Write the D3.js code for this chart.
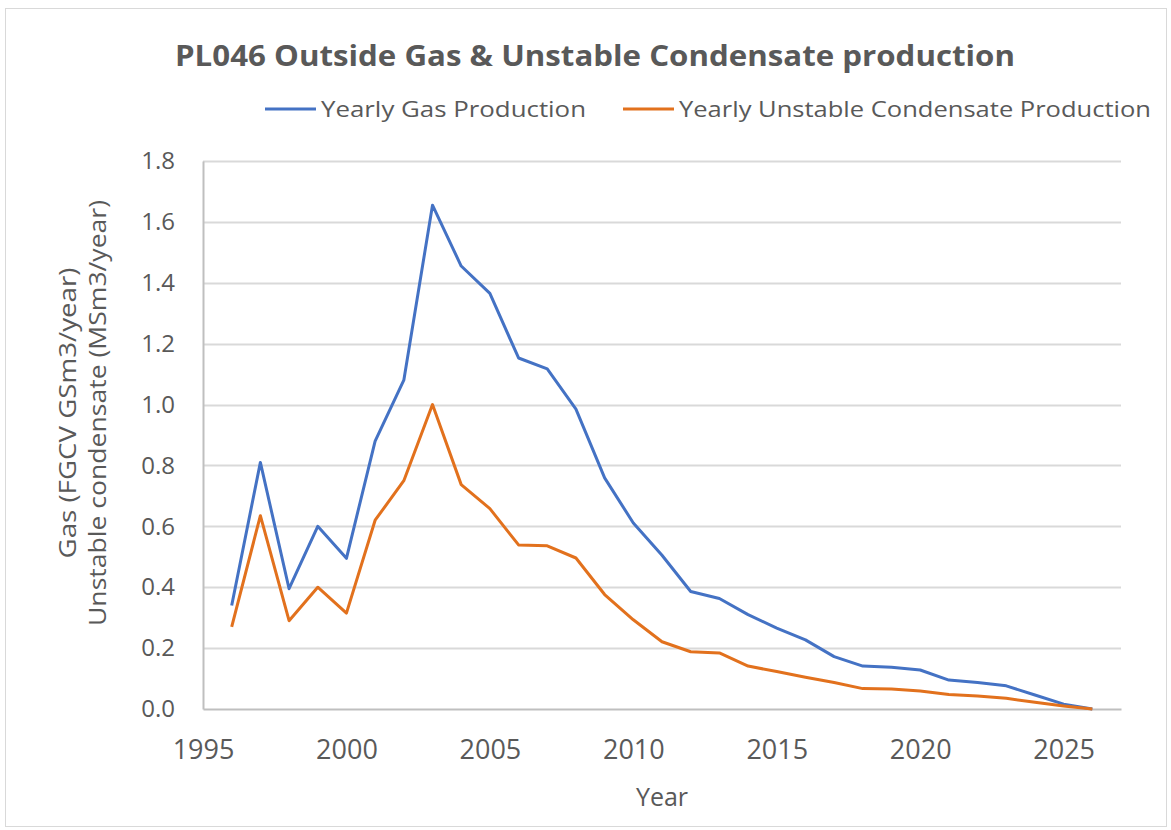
<!DOCTYPE html>
<html>
<head>
<meta charset="utf-8">
<script src="https://cdn.jsdelivr.net/npm/d3@7"></script>
<style>
  body { margin: 0; background: #fff; }
  text { font-family: "Open Sans", sans-serif; fill: #595959; }
</style>
</head>
<body>
<div id="chart"></div>
<script>
const years = [1996, 1997, 1998, 1999, 2000, 2001, 2002, 2003, 2004, 2005, 2006, 2007, 2008, 2009, 2010,
  2011, 2012, 2013, 2014, 2015, 2016, 2017, 2018, 2019, 2020, 2021, 2022, 2023, 2024, 2025, 2026];

const gas = [0.34, 0.81, 0.395, 0.60, 0.495, 0.88, 1.08, 1.655, 1.455, 1.365, 1.153, 1.117, 0.985, 0.759, 0.611,
  0.505, 0.386, 0.363, 0.31, 0.266, 0.227, 0.172, 0.141, 0.137, 0.128, 0.095, 0.087, 0.076, 0.046, 0.016, 0.0];

const condensate = [0.27, 0.635, 0.29, 0.40, 0.315, 0.62, 0.75, 1.0, 0.737, 0.658, 0.539, 0.536, 0.496, 0.376, 0.293,
  0.221, 0.188, 0.184, 0.141, 0.123, 0.104, 0.087, 0.067, 0.066, 0.059, 0.048, 0.043, 0.035, 0.022, 0.01, 0.0];

const xTicks = [1995, 2000, 2005, 2010, 2015, 2020, 2025];
const yTicks = [0, 0.2, 0.4, 0.6, 0.8, 1.0, 1.2, 1.4, 1.6, 1.8];

const seriesNames = ["Yearly Gas Production", "Yearly Unstable Condensate Production"];
const colors = ["#4472c4", "#e2711d"];

const width = 1171;
const height = 830;
const margin = { top: 161, right: 50, bottom: 121, left: 203 };

const svg = d3.select("#chart")
  .append("svg")
  .attr("width", width)
  .attr("height", height);

// outer chart border
svg.append("rect")
  .attr("x", 5.5).attr("y", 8.5)
  .attr("width", 1161).attr("height", 818)
  .attr("fill", "none")
  .attr("stroke", "#d9d9d9");

const x = d3.scaleLinear()
  .domain([1995, 2027])
  .range([margin.left, width - margin.right]);

const y = d3.scaleLinear()
  .domain([0, 1.8])
  .range([height - margin.bottom, margin.top]);

// gridlines
svg.append("g")
  .selectAll("line")
  .data(yTicks.slice(1))
  .join("line")
  .attr("x1", margin.left)
  .attr("x2", width - margin.right)
  .attr("y1", d => Math.round(y(d)) + 0.5)
  .attr("y2", d => Math.round(y(d)) + 0.5)
  .attr("stroke", "#d9d9d9")
  .attr("stroke-width", 2);

function yAxis(g) {
  g.attr("transform", `translate(${margin.left},0)`)
    .call(d3.axisLeft(y).tickValues(yTicks).tickFormat(d3.format(".1f")).tickSize(0).tickPadding(28))
    .call(g => g.select(".domain").attr("stroke", "#bfbfbf").attr("stroke-width", 2))
    .call(g => g.selectAll("text").attr("font-size", "24px").attr("fill", "#595959"));
}

function xAxis(g) {
  g.attr("transform", `translate(0,${height - margin.bottom})`)
    .call(d3.axisBottom(x).tickValues(xTicks).tickFormat(d3.format("d")).tickSize(0).tickPadding(31))
    .call(g => g.select(".domain").attr("stroke", "#bfbfbf").attr("stroke-width", 2))
    .call(g => g.selectAll("text").attr("font-size", "27px").attr("fill", "#595959"));
}

svg.append("g").call(xAxis);
svg.append("g").call(yAxis);

const line = d3.line()
  .x((d, i) => x(years[i]))
  .y(d => y(d));

[gas, condensate].forEach((s, k) => {
  svg.append("path")
    .datum(s)
    .attr("fill", "none")
    .attr("stroke", colors[k])
    .attr("stroke-width", 3)
    .attr("stroke-linejoin", "round")
    .attr("d", line);
});

// title
svg.append("text")
  .attr("x", 175).attr("y", 66)
  .attr("font-size", "29px")
  .attr("font-weight", "bold")
  .attr("textLength", 840)
  .attr("lengthAdjust", "spacingAndGlyphs")
  .text("PL046 Outside Gas & Unstable Condensate production");

// legend
const legendX = [265, 623];
const legendW = [265, 472];
seriesNames.forEach((name, k) => {
  svg.append("line")
    .attr("x1", legendX[k]).attr("x2", legendX[k] + 51)
    .attr("y1", 109).attr("y2", 109)
    .attr("stroke", colors[k]).attr("stroke-width", 3);
  svg.append("text")
    .attr("x", legendX[k] + 56).attr("y", 117)
    .attr("font-size", "22px")
    .attr("textLength", legendW[k])
    .attr("lengthAdjust", "spacingAndGlyphs")
    .text(name);
});

// axis titles
svg.append("text")
  .attr("transform", "translate(76,413) rotate(-90)")
  .attr("text-anchor", "middle")
  .attr("font-size", "24px")
  .attr("textLength", 291)
  .attr("lengthAdjust", "spacingAndGlyphs")
  .text("Gas (FGCV GSm3/year)");
svg.append("text")
  .attr("transform", "translate(106,413) rotate(-90)")
  .attr("text-anchor", "middle")
  .attr("font-size", "24px")
  .attr("textLength", 426)
  .attr("lengthAdjust", "spacingAndGlyphs")
  .text("Unstable condensate (MSm3/year)");

svg.append("text")
  .attr("x", 662).attr("y", 806)
  .attr("text-anchor", "middle")
  .attr("font-size", "25px")
  .text("Year");
</script>
</body>
</html>
